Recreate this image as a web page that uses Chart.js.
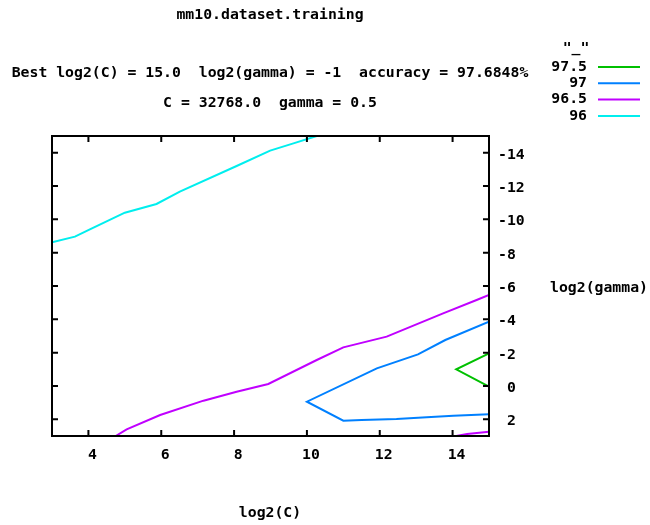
<!DOCTYPE html>
<html>
<head>
<meta charset="utf-8">
<script src="https://cdn.jsdelivr.net/npm/chart.js@4/dist/chart.umd.min.js"></script>
<style>
  html, body { margin: 0; padding: 0; background: #fff; }
  #wrap { width: 650px; height: 525px; }
</style>
</head>
<body>
<div id="wrap"><canvas id="contour"></canvas></div>
<script>
// contour levels (legend order)
const levels = ['97.5', '97', '96.5', '96'];
const levelColors = ['#00c000', '#0080ff', '#c000ff', '#00eeee'];

// 96 contour
const c96 = [3.0, 3.63, 4.04, 5.0, 5.87, 6.51, 8.07, 8.99, 9.63, 10.27];
const g96 = [-8.62, -8.96, -9.4, -10.4, -10.92, -11.66, -13.2, -14.12, -14.56, -15];

// 96.5 contour (two pieces)
const c965a = [4.75, 5.05, 5.97, 7.16, 8.07, 8.94, 10.27, 11.0, 12.19, 13.74, 14.66, 15.0];
const g965a = [3.0, 2.6, 1.74, 0.88, 0.34, -0.12, -1.56, -2.32, -2.96, -4.36, -5.16, -5.46];
const c965b = [14.1, 14.4, 15.0];
const g965b = [3.0, 2.88, 2.74];

// 97 contour
const c97 = [15.0, 13.8, 13.05, 11.92, 10.0, 11.0, 11.5, 12.46, 13.29, 14.02, 15.0];
const g97 = [-3.86, -2.76, -1.9, -1.06, 0.94, 2.08, 2.04, 1.98, 1.88, 1.78, 1.7];

// 97.5 contour
const c975 = [15.0, 14.1, 15.0];
const g975 = [-1.96, -1.0, 0.04];

const xTicks = [4, 6, 8, 10, 12, 14];
const yTicks = [-14, -12, -10, -8, -6, -4, -2, 0, 2];

const titleLines = [
  'mm10.dataset.training',
  'Best log2(C) = 15.0  log2(gamma) = -1  accuracy = 97.6848%',
  'C = 32768.0  gamma = 0.5'
];
const xLabel = 'log2(C)';
const yLabel = 'log2(gamma)';
const keyTitle = '"_"';

const FONT = 'bold 14.8px "DejaVu Sans Mono", monospace';

function pts(xs, ys) {
  return xs.map((x, i) => ({x: x, y: ys[i]}));
}

function seg(level, xs, ys) {
  const k = levels.indexOf(level);
  return {
    label: level,
    data: pts(xs, ys),
    showLine: true,
    borderColor: levelColors[k],
    backgroundColor: levelColors[k],
    borderWidth: 2,
    pointRadius: 0,
    tension: 0
  };
}

// border, inward ticks, titles, key
const gnuplotLook = {
  id: 'gnuplotLook',
  afterDraw(chart) {
    const ctx = chart.ctx;
    const a = chart.chartArea;
    const xs = chart.scales.x, ys = chart.scales.y;
    ctx.save();
    ctx.strokeStyle = '#000';
    ctx.lineWidth = 2;
    ctx.strokeRect(a.left, a.top, a.right - a.left, a.bottom - a.top);
    ctx.beginPath();
    xTicks.forEach(v => {
      const px = xs.getPixelForValue(v);
      ctx.moveTo(px, a.top); ctx.lineTo(px, a.top + 6);
      ctx.moveTo(px, a.bottom); ctx.lineTo(px, a.bottom - 6);
    });
    yTicks.forEach(v => {
      const py = ys.getPixelForValue(v);
      ctx.moveTo(a.left, py); ctx.lineTo(a.left + 6, py);
      ctx.moveTo(a.right, py); ctx.lineTo(a.right - 6, py);
    });
    ctx.stroke();

    ctx.fillStyle = '#000';
    ctx.font = FONT;
    ctx.textBaseline = 'middle';
    ctx.textAlign = 'center';
    ctx.fillText(titleLines[0], 270, 15);
    ctx.fillText(titleLines[1], 270, 73);
    ctx.fillText(titleLines[2], 270, 103);
    ctx.fillText(xLabel, 270, 513);
    ctx.fillText(keyTitle, 576, 48);
    ctx.textAlign = 'left';
    ctx.fillText(yLabel, 550, 288);

    // key
    ctx.textAlign = 'right';
    levels.forEach((lv, i) => {
      const y = 67 + i * 16.3;
      ctx.fillStyle = '#000';
      ctx.fillText(lv, 587, y);
      ctx.strokeStyle = levelColors[i];
      ctx.lineWidth = 2;
      ctx.beginPath();
      ctx.moveTo(598, y);
      ctx.lineTo(640, y);
      ctx.stroke();
    });
    ctx.restore();
  }
};

new Chart(document.getElementById('contour'), {
  type: 'scatter',
  data: {
    datasets: [
      seg('97.5', c975, g975),
      seg('97', c97, g97),
      seg('96.5', c965a, g965a),
      seg('96.5', c965b, g965b),
      seg('96', c96, g96)
    ]
  },
  options: {
    responsive: true,
    maintainAspectRatio: false,
    animation: false,
    layout: { padding: { left: 52, top: 136, right: 0, bottom: 0 } },
    plugins: {
      legend: { display: false },
      title: { display: false },
      tooltip: { enabled: false }
    },
    scales: {
      x: {
        type: 'linear',
        position: 'bottom',
        min: 3,
        max: 15,
        grid: { display: false, drawTicks: false },
        border: { display: false },
        afterBuildTicks: s => { s.ticks = xTicks.map(v => ({value: v})); },
        afterFit: s => { s.height = 89; },
        ticks: {
          color: '#000',
          font: { family: '"DejaVu Sans Mono", monospace', size: 14.8, weight: 'bold' },
          padding: 10,
          labelOffset: 4,
          maxRotation: 0
        }
      },
      y: {
        type: 'linear',
        position: 'right',
        reverse: true,
        min: -15,
        max: 3,
        grid: { display: false, drawTicks: false },
        border: { display: false },
        afterBuildTicks: s => { s.ticks = yTicks.map(v => ({value: v})); },
        afterFit: s => { s.width = 161; },
        ticks: {
          color: '#000',
          font: { family: '"DejaVu Sans Mono", monospace', size: 14.8, weight: 'bold' },
          padding: 9,
          labelOffset: 2,
          callback: v => (v >= 0 ? ' ' + v : String(v))
        }
      }
    }
  },
  plugins: [gnuplotLook]
});
</script>
</body>
</html>
